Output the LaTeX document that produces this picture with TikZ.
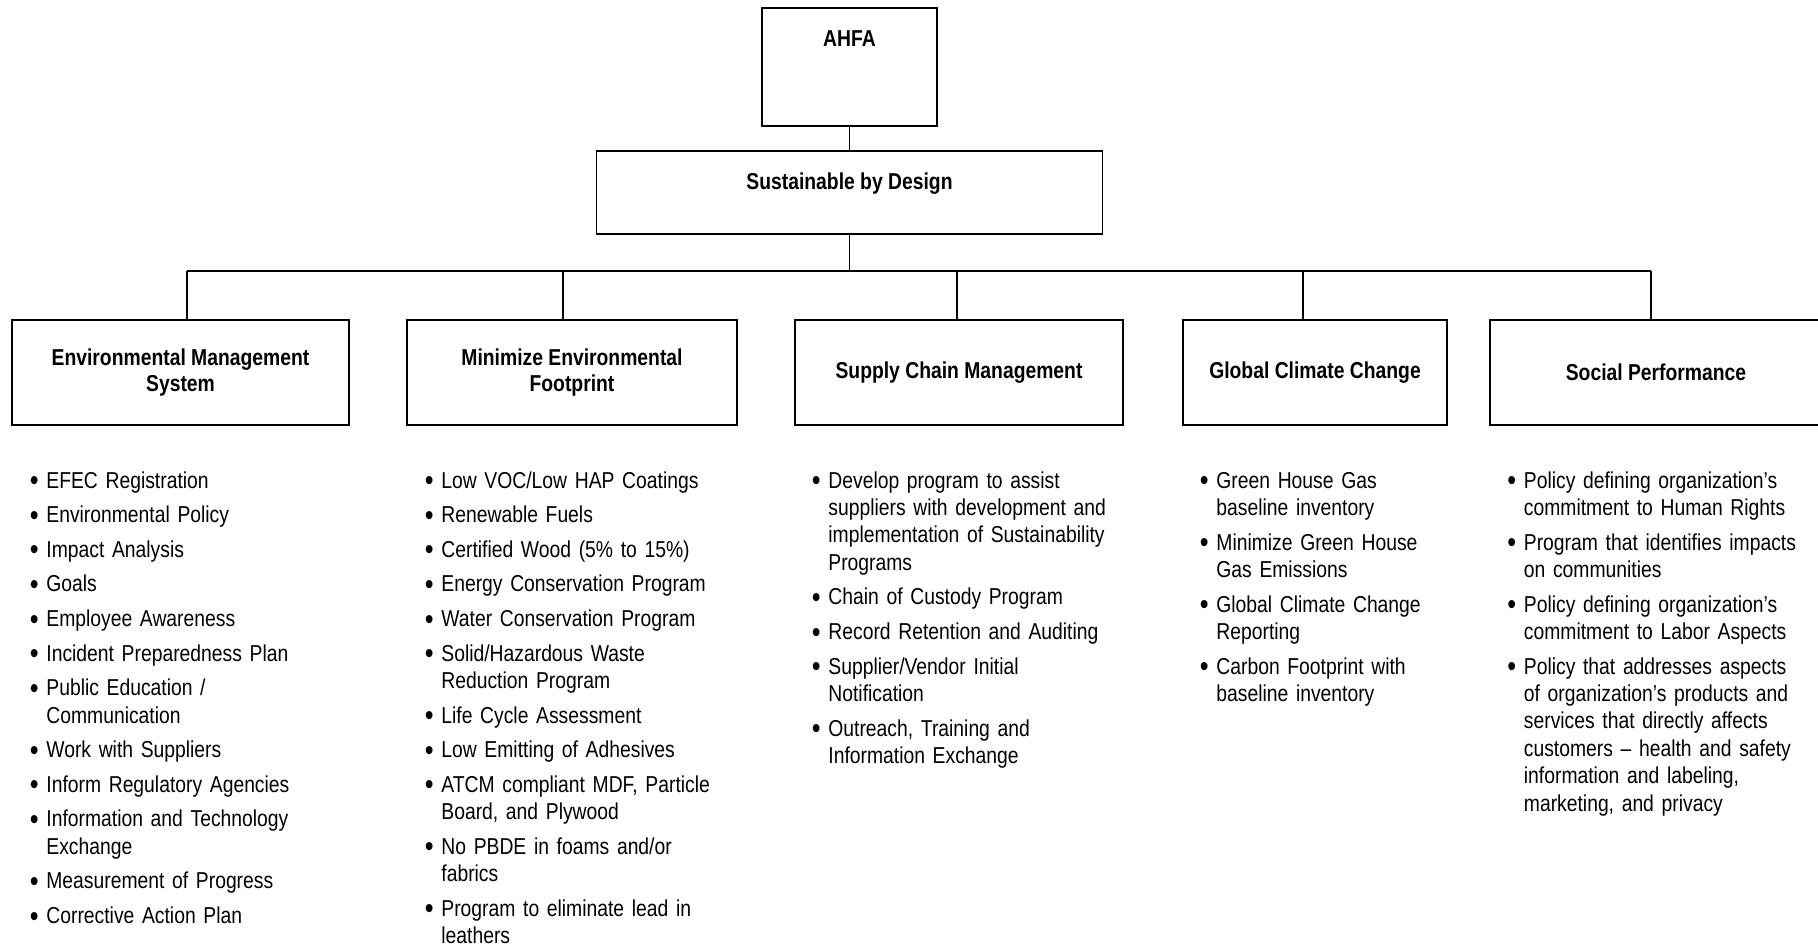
\documentclass[tikz,border=0pt]{standalone}
\usepackage{fontspec}
\setmainfont{Liberation Sans}[FakeStretch=0.84]
\newcommand{\listfont}{\fontsize{11.5pt}{13.7pt}\selectfont}
\newcommand{\headfont}{\fontsize{11.5pt}{13.2pt}\selectfont\bfseries}
\newcommand{\itm}[1]{\hangindent=9.5pt\hangafter=1\makebox[9.5pt][l]{\hspace{1.2pt}\raisebox{-1.3pt}{\scalebox{1.3}{\textbullet}}}#1\par}
\tikzstyle{topbox} = [rectangle, draw=black, line width=0.8pt, inner ysep=0pt, text height=19.5pt, anchor=base, font=\headfont]
\tikzstyle{branch} = [rectangle, draw=black, line width=0.8pt, minimum height=52.5pt, align=center, font=\headfont]
\tikzstyle{items} = [anchor=base west, inner sep=0pt, align=left, font=\listfont, execute at begin node={\setlength{\parskip}{3.6pt}}]
\tikzstyle{link} = [line width=0.6pt]
\tikzstyle{trunk} = [line width=0.8pt]

\begin{document}
\begin{tikzpicture}[x=0.5pt, y=-0.5pt]
\useasboundingbox (0, 0) rectangle (1818, 946);

\node at (849.5, 47) (ahfa) [topbox, minimum width=87.5pt, text depth=39.5pt] {AHFA};
\node at (849.5, 190) (sbd) [topbox, minimum width=253pt, text depth=22pt] {Sustainable by Design};

\node at (180.5, 372.5) (ems) [branch, minimum width=168.5pt] {Environmental Management\\System};
\node at (572, 372.5) (mef) [branch, minimum width=165pt] {Minimize Environmental\\Footprint};
\node at (959, 372.5) (scm) [branch, minimum width=164pt] {Supply Chain Management};
\node at (1315, 372.5) (gcc) [branch, minimum width=132pt] {Global Climate Change};
\node at (1656, 372.5) (soc) [branch, minimum width=166pt] {Social Performance};

\coordinate (ems-j) at (187, 271);
\coordinate (mef-j) at (563, 271);
\coordinate (scm-j) at (957, 271);
\coordinate (gcc-j) at (1303, 271);
\coordinate (soc-j) at (1651, 271);

\node at (27, 488) (emslist) [items, text width=150pt] {%
\itm{EFEC Registration}
\itm{Environmental Policy}
\itm{Impact Analysis}
\itm{Goals}
\itm{Employee Awareness}
\itm{Incident Preparedness Plan}
\itm{Public Education /\newline Communication}
\itm{Work with Suppliers}
\itm{Inform Regulatory Agencies}
\itm{Information and Technology\newline Exchange}
\itm{Measurement of Progress}
\itm{Corrective Action Plan}};
\node at (422, 488) (meflist) [items, text width=165pt] {%
\itm{Low VOC/Low HAP Coatings}
\itm{Renewable Fuels}
\itm{Certified Wood (5\% to 15\%)}
\itm{Energy Conservation Program}
\itm{Water Conservation Program}
\itm{Solid/Hazardous Waste\newline Reduction Program}
\itm{Life Cycle Assessment}
\itm{Low Emitting of Adhesives}
\itm{ATCM compliant MDF, Particle\newline Board, and Plywood}
\itm{No PBDE in foams and/or\newline fabrics}
\itm{Program to eliminate lead in\newline leathers}};
\node at (809, 488) (scmlist) [items, text width=165pt] {%
\itm{Develop program to assist\newline suppliers with development and\newline implementation of Sustainability\newline Programs}
\itm{Chain of Custody Program}
\itm{Record Retention and Auditing}
\itm{Supplier/Vendor Initial\newline Notification}
\itm{Outreach, Training and\newline Information Exchange}};
\node at (1197, 488) (gcclist) [items, text width=130pt] {%
\itm{Green House Gas\newline baseline inventory}
\itm{Minimize Green House\newline Gas Emissions}
\itm{Global Climate Change\newline Reporting}
\itm{Carbon Footprint with\newline baseline inventory}};
\node at (1504.5, 488) (soclist) [items, text width=155pt] {%
\itm{Policy defining organization’s\newline commitment to Human Rights}
\itm{Program that identifies impacts\newline on communities}
\itm{Policy defining organization’s\newline commitment to Labor Aspects}
\itm{Policy that addresses aspects\newline of organization’s products and\newline services that directly affects\newline customers – health and safety\newline information and labeling,\newline marketing, and privacy}};

\draw [link] (ahfa) -- (sbd);
\draw [link] (sbd) -- (sbd |- ems-j);
\draw [trunk] (ems-j) -- (soc-j);
\draw [link] (ems-j) -- (ems-j |- ems.north);
\draw [link] (mef-j) -- (mef-j |- mef.north);
\draw [link] (scm-j) -- (scm-j |- scm.north);
\draw [link] (gcc-j) -- (gcc-j |- gcc.north);
\draw [link] (soc-j) -- (soc-j |- soc.north);

\end{tikzpicture}
\end{document}
